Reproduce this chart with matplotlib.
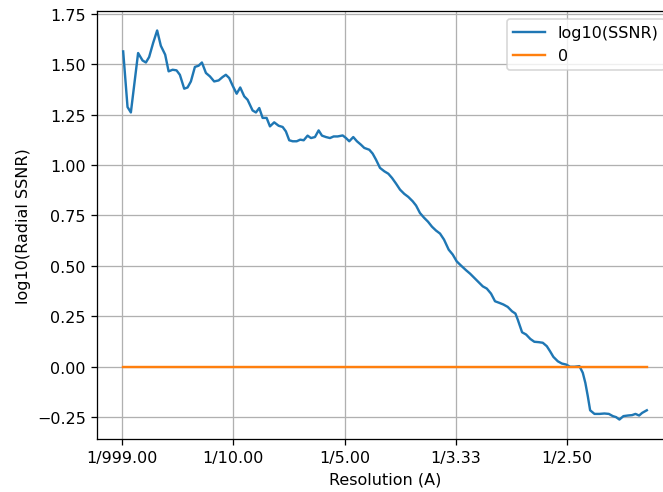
import numpy as np
import matplotlib
matplotlib.use('Agg')
import matplotlib.pyplot as plt

# spatial frequency (1/A) and log10 of radial SSNR
freq = [0.0012, 0.0051, 0.0081, 0.0146, 0.0186, 0.0216, 0.0245, 0.0281, 0.0317, 0.0350,
        0.0389, 0.0420, 0.0456, 0.0491, 0.0521, 0.0560, 0.0590, 0.0620, 0.0656, 0.0689,
        0.0719, 0.0755, 0.0791, 0.0829, 0.0869, 0.0905, 0.0934, 0.0964, 0.0995, 0.1031,
        0.1063, 0.1099, 0.1129, 0.1174, 0.1204, 0.1234, 0.1264, 0.1300, 0.1330, 0.1368,
        0.1408, 0.1444, 0.1473, 0.1503, 0.1534, 0.1570, 0.1602, 0.1633, 0.1668, 0.1698,
        0.1734, 0.1767, 0.1797, 0.1833, 0.1869, 0.1902, 0.1938, 0.1983, 0.2013, 0.2042,
        0.2078, 0.2111, 0.2147, 0.2177, 0.2222, 0.2252, 0.2282, 0.2318, 0.2357, 0.2393,
        0.2426, 0.2462, 0.2498, 0.2536, 0.2572, 0.2612, 0.2642, 0.2677, 0.2713, 0.2749,
        0.2785, 0.2821, 0.2857, 0.2893, 0.2935, 0.2971, 0.3007, 0.3046, 0.3091, 0.3127,
        0.3165, 0.3205, 0.3241, 0.3277, 0.3315, 0.3351, 0.3390, 0.3426, 0.3465, 0.3504,
        0.3534, 0.3555, 0.3594, 0.3630, 0.3668, 0.3704, 0.3744, 0.3780, 0.3816, 0.3845,
        0.3875, 0.3915, 0.3951, 0.3989, 0.4025, 0.4064, 0.4109, 0.4139, 0.4162, 0.4184,
        0.4205, 0.4244, 0.4289, 0.4333, 0.4373, 0.4409, 0.4438, 0.4468, 0.4504, 0.4544,
        0.4582, 0.4612, 0.4645, 0.4672, 0.4714]
log_ssnr = [1.564, 1.288, 1.261, 1.556, 1.519, 1.509, 1.536, 1.606, 1.668, 1.592,
            1.548, 1.465, 1.473, 1.470, 1.448, 1.379, 1.385, 1.415, 1.487, 1.493,
            1.509, 1.457, 1.440, 1.415, 1.420, 1.437, 1.448, 1.432, 1.394, 1.354,
            1.385, 1.341, 1.324, 1.271, 1.261, 1.283, 1.234, 1.234, 1.192, 1.212,
            1.195, 1.189, 1.167, 1.123, 1.118, 1.118, 1.126, 1.123, 1.146, 1.134,
            1.139, 1.172, 1.146, 1.139, 1.134, 1.142, 1.142, 1.147, 1.134, 1.118,
            1.139, 1.118, 1.101, 1.085, 1.076, 1.057, 1.027, 0.986, 0.969, 0.957,
            0.936, 0.908, 0.878, 0.857, 0.842, 0.820, 0.799, 0.762, 0.739, 0.719,
            0.694, 0.675, 0.660, 0.630, 0.580, 0.556, 0.522, 0.501, 0.478, 0.461,
            0.440, 0.418, 0.398, 0.387, 0.362, 0.324, 0.316, 0.308, 0.296, 0.274,
            0.263, 0.233, 0.170, 0.159, 0.137, 0.123, 0.121, 0.118, 0.101, 0.076,
            0.048, 0.026, 0.015, 0.010, -0.001, -0.001, 0.002, -0.031, -0.081, -0.147,
            -0.217, -0.235, -0.235, -0.233, -0.235, -0.246, -0.251, -0.263, -0.246, -0.243,
            -0.241, -0.235, -0.243, -0.230, -0.217]

tick_freq = [0.0, 0.1, 0.2, 0.3, 0.4]
tick_labels = ['1/999.00', '1/10.00', '1/5.00', '1/3.33', '1/2.50']

dpi = 115
fig = plt.figure(figsize=(663 / dpi, 493 / dpi), dpi=dpi)
# axes run a little past the right edge, as in the (cropped) original
ax = fig.add_axes([97 / 663, 53 / 493, 576 / 663, 428 / 493])

ax.plot(freq, log_ssnr, label='log10(SSNR)')
ax.plot(freq, np.zeros(len(freq)), label='0')
ax.set_xticks(tick_freq)
ax.set_xticklabels(tick_labels)
ax.set_xlabel('Resolution (A)')
ax.set_ylabel('log10(Radial SSNR)')
ax.grid(True)
ax.legend(loc='upper right')

fig.savefig('out.png', dpi=dpi)
